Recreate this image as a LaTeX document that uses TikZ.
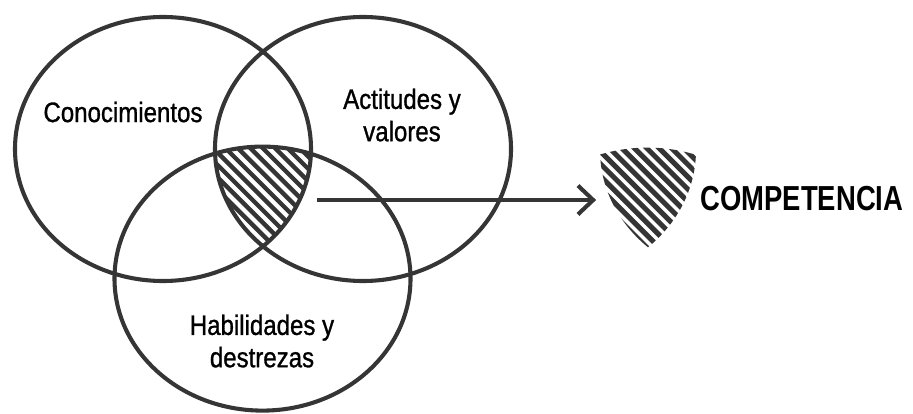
\documentclass[tikz,border=0pt]{standalone}
\usepackage{fontspec}
\setmainfont{Liberation Sans}[FakeStretch=0.855, FakeBold=1]
\newfontfamily\badgefont{Liberation Sans}[FakeStretch=0.79]
\usepackage{tikz}
\usetikzlibrary{arrows.meta, positioning, calc}
\definecolor{ink}{HTML}{353535}
\tikzstyle{ring} = [draw=ink, line width=2.9pt]
\tikzstyle{stripe} = [draw=ink, line width=3.1pt]
\tikzstyle{tag} = [inner sep=0pt, align=center, font=\fontsize{20}{23}\selectfont]
\newcommand{\coreclip}{%
	\clip (4.075,6.6) ellipse [x radius=3.7, y radius=3.3];
	\clip (9.075,6.6) ellipse [x radius=3.7, y radius=3.3];
	\clip (6.5625,3.36) ellipse [x radius=3.7, y radius=3.3];}

\begin{document}
\begin{tikzpicture}
		\useasboundingbox (0,0) rectangle (22.825,10.325);
		\coordinate (know)   at (4.075,  6.6);
		\coordinate (attit)  at (9.075,  6.6);
		\coordinate (skill)  at (6.5625, 3.36);
		\coordinate (tail)   at (7.925,  5.325);
		\coordinate (shield) at (16.16,  5.36);

		% hatched core of the three sets
		\begin{scope}
			\coreclip
			\foreach \k in {-9,...,9}
				\draw[stripe] (6.55+\k*0.31, 5.4) ++(135:3) -- ++(-45:6);
		\end{scope}

		\draw[ring] (know)  ellipse [x radius=3.7, y radius=3.3];
		\draw[ring] (attit) ellipse [x radius=3.7, y radius=3.3];
		\draw[ring] (skill) ellipse [x radius=3.7, y radius=3.3];

		\node[tag] (CONO) at (3.075, 7.525) {Conocimientos};
		\node[tag] (ACT)  at (10.05, 7.45)  {Actitudes y\\valores};
		\node[tag] (HAB)  at (6.55,  1.8)   {Habilidades y\\destrezas};

		% the same core, alone, as the badge
		\begin{scope}[shift={(9.625,-0.025)}]
			\coreclip
			\foreach \k in {-9,...,9}
				\draw[stripe, line width=3.6pt] (6.55+\k*0.31, 5.4) ++(135:3) -- ++(-45:6);
		\end{scope}
		\node[minimum width=2.5cm, minimum height=2.4cm] (SHIELD) at (shield) {};
		\node[inner sep=0pt, right=0.09cm of SHIELD, font=\badgefont\fontsize{24.7}{27}\selectfont\bfseries] (COMP) {COMPETENCIA};

		\draw[ink, line width=2.9pt, -{Straight Barb[length=3.8mm, width=7.2mm]}] (tail) -- (tail -| SHIELD.west);

	\end{tikzpicture}
\end{document}
